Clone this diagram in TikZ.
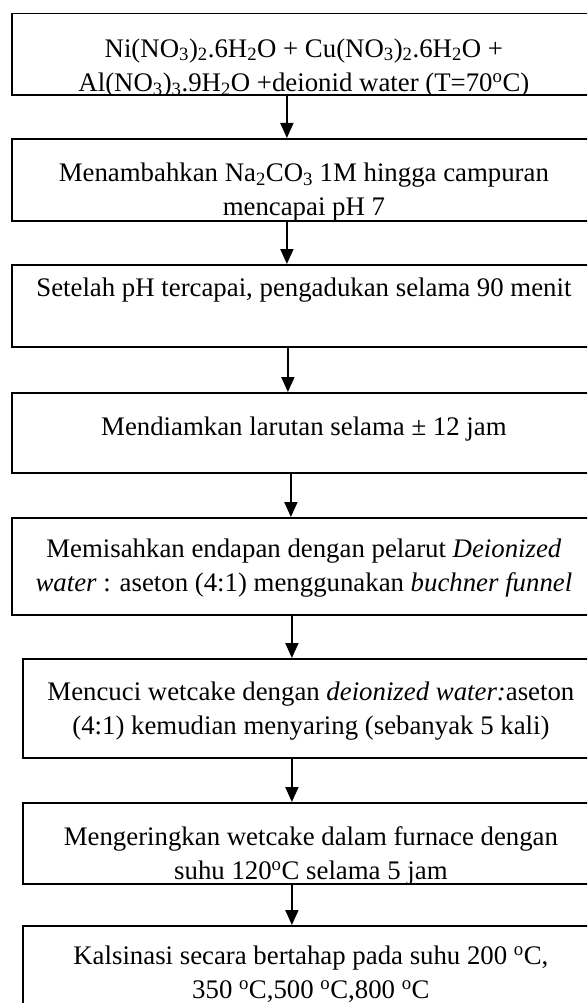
\documentclass[tikz,border=0pt]{standalone}
\usepackage{fontspec}
\setmainfont{Liberation Serif}
\usetikzlibrary{arrows.meta}

\begin{document}
\begin{tikzpicture}[x=1pt, y=-1pt,
  stepbox/.style={draw, line width=1.8pt, anchor=north west, inner sep=0pt, minimum height=#1},
  steptext/.style={anchor=base, align=center, inner sep=0pt, font=\fontsize{26.8}{34.5}\selectfont},
  boxtext/.style 2 args={path picture={\node[steptext] at ([yshift=-#1]path picture bounding box.north) {#2};}},
  flow/.style={-{Triangle[width=13pt,length=15pt]}, line width=1.8pt}]
  \useasboundingbox (0,0) rectangle (587,1003);
  \clip (0,0) rectangle (587,1003);
  \node[stepbox=81.5pt, minimum width=584pt, boxtext={78pt}{Ni(NO\textsubscript{3})\textsubscript{2}.6H\textsubscript{2}O + Cu(NO\textsubscript{3})\textsubscript{2}.6H\textsubscript{2}O +\\Al(NO\textsubscript{3})\textsubscript{3}.9H\textsubscript{2}O +deionid water (T=70\textsuperscript{o}C)}] (mix) at (11,12.7) {};
  \node[stepbox=82pt, minimum width=584pt, boxtext={77pt}{Menambahkan Na\textsubscript{2}CO\textsubscript{3} 1M hingga campuran\\mencapai pH 7}] (titrate) at (11,138) {};
  \node[stepbox=82pt, minimum width=584pt, boxtext={32pt}{Setelah pH tercapai, pengadukan selama 90 menit}] (stir) at (11,264) {};
  \node[stepbox=80pt, minimum width=584pt, boxtext={43pt}{Mendiamkan larutan selama ± 12 jam}] (age) at (11,392) {};
  \node[stepbox=97pt, minimum width=584pt, boxtext={74pt}{Memisahkan endapan dengan pelarut \textit{Deionized}\\\textit{water} : aseton (4:1) menggunakan \textit{buchner funnel}}] (filter) at (11,517) {};
  \node[stepbox=99pt, minimum width=576pt, boxtext={76pt}{Mencuci wetcake dengan \textit{deionized water:}aseton\\(4:1) kemudian menyaring (sebanyak 5 kali)}] (wash) at (22,658) {};
  \node[stepbox=81pt, minimum width=576pt, boxtext={77pt}{Mengeringkan wetcake dalam furnace dengan\\suhu 120\textsuperscript{o}C selama 5 jam}] (dry) at (22,802) {};
  \node[stepbox=120pt, minimum width=576pt, boxtext={73pt}{Kalsinasi secara bertahap pada suhu 200 \textsuperscript{o}C,\\350 \textsuperscript{o}C,500 \textsuperscript{o}C,800 \textsuperscript{o}C}] (calcine) at (22,925) {};
  \draw[flow] ([xshift=-17pt]mix.south) -- ([xshift=-17pt]titrate.north);
  \draw[flow] ([xshift=-17pt]titrate.south) -- ([xshift=-17pt]stir.north);
  \draw[flow] ([xshift=-16pt]stir.south) -- ([xshift=-16pt]age.north);
  \draw[flow] ([xshift=-13pt]age.south) -- ([xshift=-13pt]filter.north);
  \draw[flow] ([xshift=-12pt]filter.south) -- ([xshift=-19pt]wash.north);
  \draw[flow] ([xshift=-19pt]wash.south) -- ([xshift=-19pt]dry.north);
  \draw[flow] ([xshift=-19pt]dry.south) -- ([xshift=-19pt]calcine.north);
\end{tikzpicture}
\end{document}
